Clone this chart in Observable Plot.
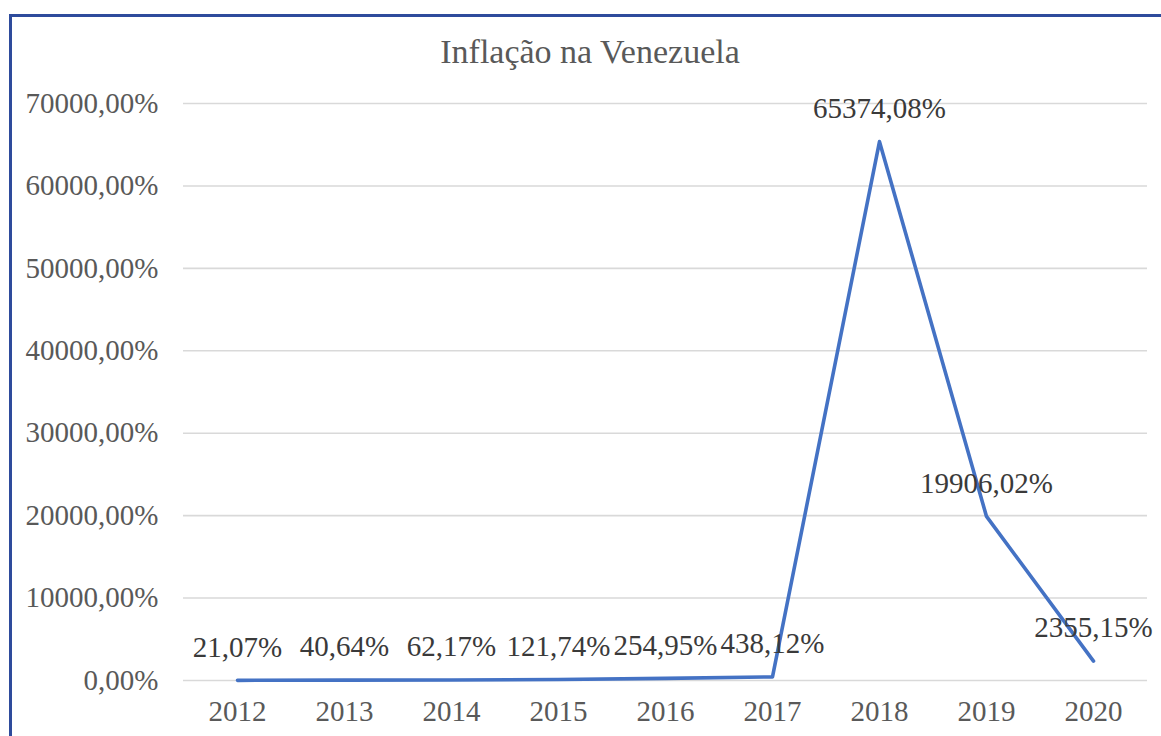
<!DOCTYPE html>
<html>
<head>
<meta charset="utf-8">
<script src="https://cdn.jsdelivr.net/npm/d3@7"></script>
<script src="https://cdn.jsdelivr.net/npm/@observablehq/plot@0.6"></script>
<style>
  html, body { margin: 0; padding: 0; background: #fff; overflow: hidden; }
  #wrap { position: relative; width: 1161px; height: 736px; overflow: hidden; }
  #border { position: absolute; left: 9px; top: 14px; width: 1180px; height: 760px; border: 3px solid #2e4b9c; box-sizing: border-box; pointer-events: none; }
  #title { position: absolute; left: 0; width: 1180px; top: 30px; text-align: center; font-family: "Liberation Serif", "Times New Roman", serif; font-size: 34px; color: #595959; line-height: 44px; }
  #chart { position: absolute; left: 0; top: 0; }
</style>
</head>
<body>
<div id="wrap">
  <div id="chart"></div>
  <div id="title">Inflação na Venezuela</div>
  <div id="border"></div>
</div>
<script>
const years = ["2012", "2013", "2014", "2015", "2016", "2017", "2018", "2019", "2020"];
const inflation = [21.07, 40.64, 62.17, 121.74, 254.95, 438.12, 65374.08, 19906.02, 2355.15];
const yTicks = [0, 10000, 20000, 30000, 40000, 50000, 60000, 70000];

const data = years.map((y, i) => ({year: y, value: inflation[i]}));
const fmt = v => v.toFixed(2).replace(".", ",") + "%";

const chart = Plot.plot({
  width: 1161,
  height: 736,
  marginTop: 103,
  marginBottom: 56,
  marginLeft: 183,
  marginRight: 14,
  style: {fontFamily: "'Liberation Serif', 'Times New Roman', serif", fontSize: "29px", color: "#595959", background: "transparent", overflow: "visible"},
  x: {type: "point", domain: years, padding: 0.5, label: null, tickSize: 0, tickPadding: 20},
  y: {domain: [0, 70000], ticks: yTicks, tickFormat: fmt, label: null, tickSize: 0, tickPadding: 25},
  marks: [
    Plot.ruleY(yTicks, {stroke: "#d9d9d9", strokeWidth: 1.6}),
    Plot.line(data, {x: "year", y: "value", stroke: "#4472c4", strokeWidth: 3.6}),
    Plot.text(data, {x: "year", y: "value", text: d => fmt(d.value), dy: -33, fill: "#3a3a3a", fontSize: 29})
  ]
});
document.getElementById("chart").appendChild(chart);
</script>
</body>
</html>
